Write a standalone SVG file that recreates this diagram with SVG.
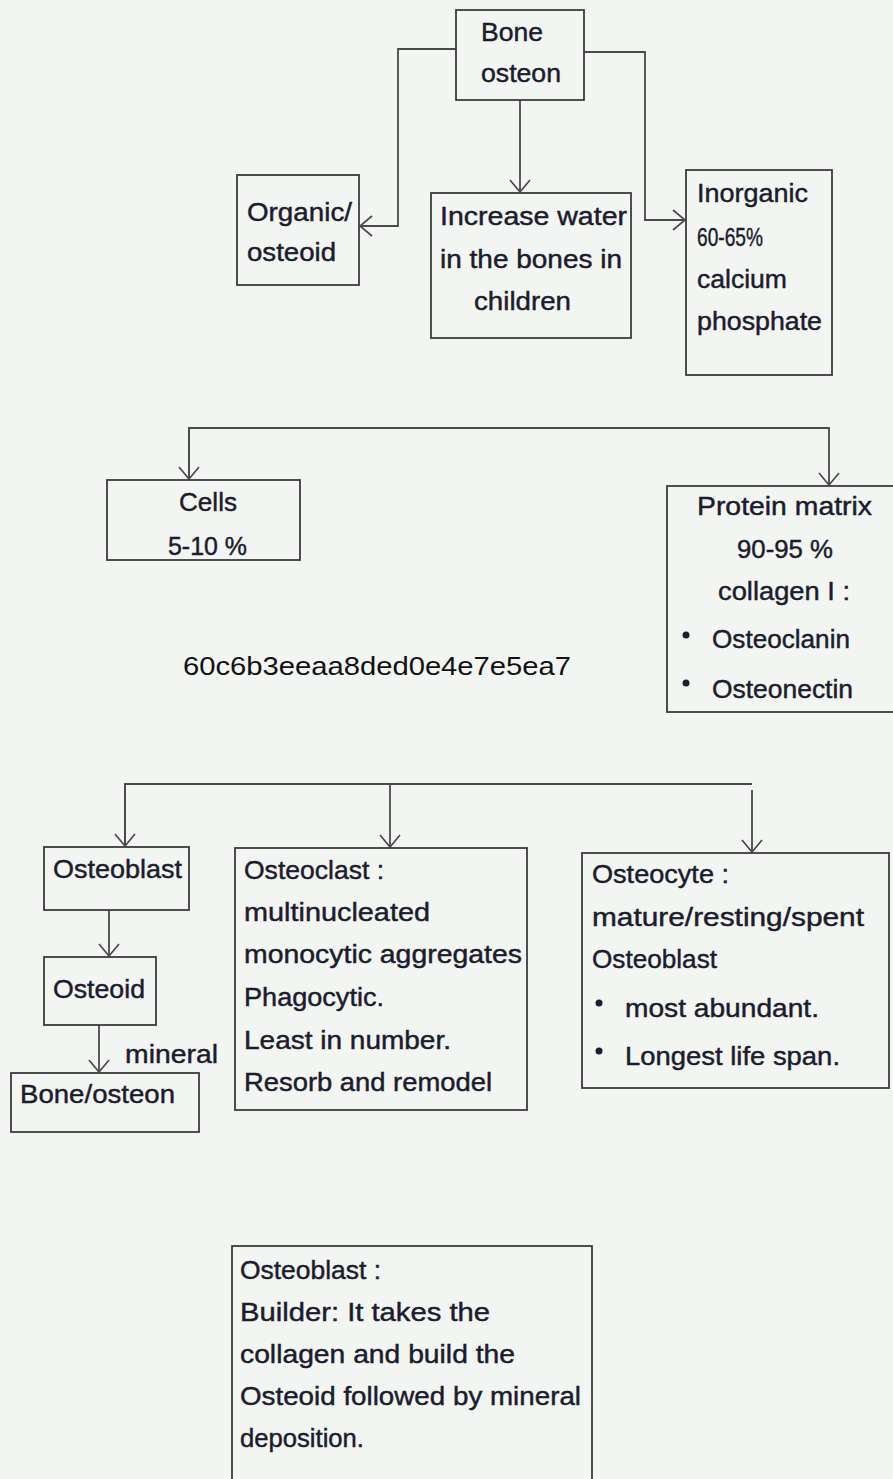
<svg xmlns="http://www.w3.org/2000/svg" width="893" height="1479" viewBox="0 0 893 1479">
<defs>
<marker id="arr" viewBox="0 0 14 22" refX="13" refY="11" markerWidth="14" markerHeight="22" markerUnits="userSpaceOnUse" orient="auto">
<path d="M1,1 L13,11 L1,21" fill="none" stroke="#4a4a4a" stroke-width="1.7"/>
</marker>
<style>
.box{fill:none;stroke:#3c3c3c;stroke-width:1.8}
.con{fill:none;stroke:#4a4a4a;stroke-width:1.8}
.t{font-family:"Liberation Sans",Arial,sans-serif;font-size:26px;fill:#1c1c2c;stroke:#1c1c2c;stroke-width:0.45}
.h{font-family:"Liberation Sans",Arial,sans-serif;font-size:26px;fill:#111}
.dot{fill:#1c1c2c}
</style>
</defs>
<rect width="893" height="1479" fill="#f3f5f3"/>

<g id="connectors">
<path class="con" d="M456,49 H398 V226 H360" marker-end="url(#arr)"/>
<path class="con" d="M520,100 V192" marker-end="url(#arr)"/>
<path class="con" d="M584,52 H645 V220 H685" marker-end="url(#arr)"/>
<path class="con" d="M189,480 V428 H829 V485" marker-end="url(#arr)"/>
<path class="con" d="M189,428 V479" marker-end="url(#arr)"/>
<path class="con" d="M125,846 V784 H752"/>
<path class="con" d="M125,784 V846" marker-end="url(#arr)"/>
<path class="con" d="M390,784 V847" marker-end="url(#arr)"/>
<path class="con" d="M752,790 V852" marker-end="url(#arr)"/>
<path class="con" d="M109,910 V956" marker-end="url(#arr)"/>
<path class="con" d="M99,1025 V1072" marker-end="url(#arr)"/>
</g>

<g id="bone">
<rect class="box" x="456" y="10" width="128" height="90"/>
<text class="t" x="481" y="41" textLength="62" lengthAdjust="spacingAndGlyphs">Bone</text>
<text class="t" x="481" y="82" textLength="80" lengthAdjust="spacingAndGlyphs">osteon</text>
</g>

<g id="organic">
<rect class="box" x="237" y="175" width="122" height="110"/>
<text class="t" x="247" y="221" textLength="105" lengthAdjust="spacingAndGlyphs">Organic/</text>
<text class="t" x="247" y="261" textLength="89" lengthAdjust="spacingAndGlyphs">osteoid</text>
</g>

<g id="water">
<rect class="box" x="431" y="193" width="200" height="145"/>
<text class="t" x="440" y="225" textLength="187" lengthAdjust="spacingAndGlyphs">Increase water</text>
<text class="t" x="440" y="268" textLength="182" lengthAdjust="spacingAndGlyphs">in the bones in</text>
<text class="t" x="474" y="310" textLength="97" lengthAdjust="spacingAndGlyphs">children</text>
</g>

<g id="inorganic">
<rect class="box" x="686" y="170" width="146" height="205"/>
<text class="t" x="697" y="202" textLength="111" lengthAdjust="spacingAndGlyphs">Inorganic</text>
<text class="t" x="697" y="246" textLength="66" lengthAdjust="spacingAndGlyphs">60-65%</text>
<text class="t" x="697" y="288" textLength="90" lengthAdjust="spacingAndGlyphs">calcium</text>
<text class="t" x="697" y="330" textLength="125" lengthAdjust="spacingAndGlyphs">phosphate</text>
</g>

<g id="cells">
<rect class="box" x="107" y="480" width="193" height="80"/>
<text class="t" x="179" y="511" textLength="58" lengthAdjust="spacingAndGlyphs">Cells</text>
<text class="t" x="168" y="555" textLength="79" lengthAdjust="spacingAndGlyphs">5-10 %</text>
</g>

<g id="protein">
<rect class="box" x="667" y="486" width="232" height="226"/>
<text class="t" x="697" y="515" textLength="175" lengthAdjust="spacingAndGlyphs">Protein matrix</text>
<text class="t" x="737" y="558" textLength="96" lengthAdjust="spacingAndGlyphs">90-95 %</text>
<text class="t" x="718" y="600" textLength="132" lengthAdjust="spacingAndGlyphs">collagen I :</text>
<circle class="dot" cx="686" cy="635" r="3.5"/>
<text class="t" x="712" y="648" textLength="138" lengthAdjust="spacingAndGlyphs">Osteoclanin</text>
<circle class="dot" cx="686" cy="683" r="3.5"/>
<text class="t" x="712" y="698" textLength="141" lengthAdjust="spacingAndGlyphs">Osteonectin</text>
</g>

<g id="hash">
<text class="h" x="183" y="675" textLength="388" lengthAdjust="spacingAndGlyphs">60c6b3eeaa8ded0e4e7e5ea7</text>
</g>

<g id="osteoblast">
<rect class="box" x="44" y="847" width="145" height="63"/>
<text class="t" x="53" y="878" textLength="129" lengthAdjust="spacingAndGlyphs">Osteoblast</text>
</g>

<g id="osteoid">
<rect class="box" x="44" y="957" width="112" height="68"/>
<text class="t" x="53" y="998" textLength="92" lengthAdjust="spacingAndGlyphs">Osteoid</text>
</g>

<g id="mineral-label">
<text class="t" x="125" y="1063" textLength="93" lengthAdjust="spacingAndGlyphs">mineral</text>
</g>

<g id="bone-osteon">
<rect class="box" x="11" y="1073" width="188" height="59"/>
<text class="t" x="20" y="1103" textLength="155" lengthAdjust="spacingAndGlyphs">Bone/osteon</text>
</g>

<g id="osteoclast">
<rect class="box" x="235" y="848" width="292" height="262"/>
<text class="t" x="244" y="879" textLength="140" lengthAdjust="spacingAndGlyphs">Osteoclast :</text>
<text class="t" x="244" y="921" textLength="186" lengthAdjust="spacingAndGlyphs">multinucleated</text>
<text class="t" x="244" y="963" textLength="278" lengthAdjust="spacingAndGlyphs">monocytic aggregates</text>
<text class="t" x="244" y="1006" textLength="140" lengthAdjust="spacingAndGlyphs">Phagocytic.</text>
<text class="t" x="244" y="1049" textLength="207" lengthAdjust="spacingAndGlyphs">Least in number.</text>
<text class="t" x="244" y="1091" textLength="248" lengthAdjust="spacingAndGlyphs">Resorb and remodel</text>
</g>

<g id="osteocyte">
<rect class="box" x="582" y="853" width="307" height="235"/>
<text class="t" x="592" y="883" textLength="137" lengthAdjust="spacingAndGlyphs">Osteocyte :</text>
<text class="t" x="592" y="926" textLength="272" lengthAdjust="spacingAndGlyphs">mature/resting/spent</text>
<text class="t" x="592" y="968" textLength="125" lengthAdjust="spacingAndGlyphs">Osteoblast</text>
<circle class="dot" cx="599" cy="1003" r="3.5"/>
<text class="t" x="625" y="1017" textLength="194" lengthAdjust="spacingAndGlyphs">most abundant.</text>
<circle class="dot" cx="599" cy="1051" r="3.5"/>
<text class="t" x="625" y="1065" textLength="215" lengthAdjust="spacingAndGlyphs">Longest life span.</text>
</g>

<g id="osteoblast-note">
<rect class="box" x="232" y="1246" width="360" height="260"/>
<text class="t" x="240" y="1279" textLength="141" lengthAdjust="spacingAndGlyphs">Osteoblast :</text>
<text class="t" x="240" y="1321" textLength="250" lengthAdjust="spacingAndGlyphs">Builder: It takes the</text>
<text class="t" x="240" y="1363" textLength="275" lengthAdjust="spacingAndGlyphs">collagen and build the</text>
<text class="t" x="240" y="1405" textLength="341" lengthAdjust="spacingAndGlyphs">Osteoid followed by mineral</text>
<text class="t" x="240" y="1447" textLength="124" lengthAdjust="spacingAndGlyphs">deposition.</text>
</g>
</svg>
